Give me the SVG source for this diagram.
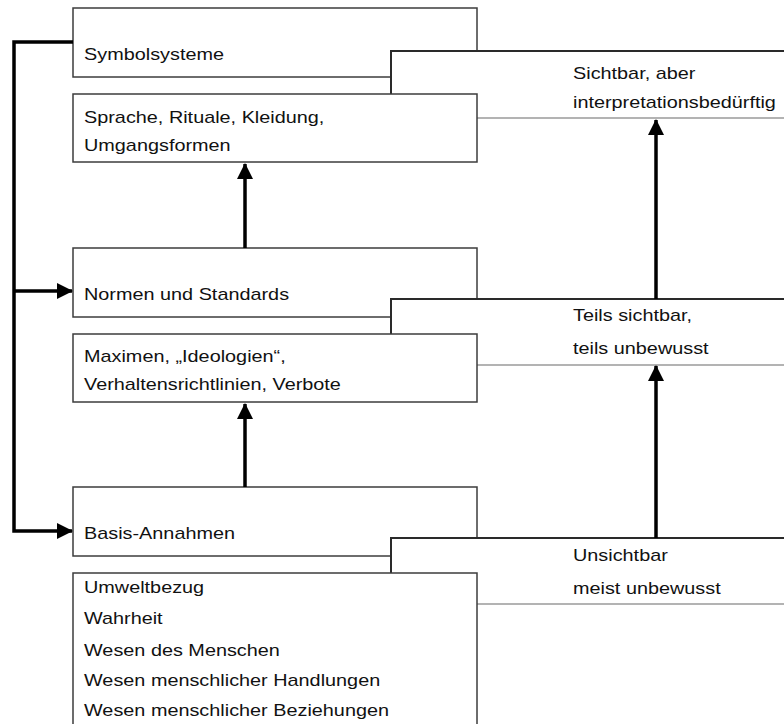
<svg xmlns="http://www.w3.org/2000/svg" width="784" height="724" viewBox="0 0 784 724">
<style>
.box{fill:#fff;stroke:#3c3c3c;stroke-width:1.5}
.bg{fill:#fff;stroke:none}
.edge{fill:none;stroke:#2a2a2a;stroke-width:2}
.low{fill:none;stroke:#9a9a9a;stroke-width:1.3}
.t{font-family:"Liberation Sans",Arial,sans-serif;font-size:16px;fill:#111}
.con{fill:none;stroke:#000;stroke-width:3.5}
</style>
<defs>
<marker id="ah" viewBox="0 0 16 16" refX="15" refY="8" markerWidth="16" markerHeight="16" markerUnits="userSpaceOnUse" orient="auto">
<path d="M0,0 L16,8 L0,16 Z" fill="#000"/>
</marker>
</defs>
<rect width="784" height="724" fill="#fff"/>

<g id="symbolsysteme">
<rect class="box" x="73" y="8" width="404" height="69"/>
<text class="t" transform="translate(84,60) scale(1.24 1)">Symbolsysteme</text>
</g>
<g id="sichtbar">
<rect class="bg" x="391" y="51" width="400" height="67"/>
<path class="edge" d="M786,51 H391 V94"/>
<path class="low" d="M477,118 H786"/>
<text class="t" transform="translate(573,79) scale(1.24 1)">Sichtbar, aber</text>
<text class="t" transform="translate(573,108) scale(1.24 1)">interpretationsbedürftig</text>
</g>
<g id="symbol-details">
<rect class="box" x="73" y="94" width="404" height="68"/>
<text class="t" transform="translate(84,123) scale(1.24 1)">Sprache, Rituale, Kleidung,</text>
<text class="t" transform="translate(84,151) scale(1.24 1)">Umgangsformen</text>
</g>

<g id="normen">
<rect class="box" x="73" y="248" width="404" height="69"/>
<text class="t" transform="translate(84,300) scale(1.24 1)">Normen und Standards</text>
</g>
<g id="teils">
<rect class="bg" x="391" y="299" width="400" height="66"/>
<path class="edge" d="M786,299 H391 V334"/>
<path class="low" d="M477,365 H786"/>
<text class="t" transform="translate(573,321) scale(1.24 1)">Teils sichtbar,</text>
<text class="t" transform="translate(573,354) scale(1.24 1)">teils unbewusst</text>
</g>
<g id="normen-details">
<rect class="box" x="73" y="334" width="404" height="68"/>
<text class="t" transform="translate(84,362) scale(1.24 1)">Maximen, „Ideologien“,</text>
<text class="t" transform="translate(84,390) scale(1.24 1)">Verhaltensrichtlinien, Verbote</text>
</g>

<g id="basis">
<rect class="box" x="73" y="487" width="404" height="69"/>
<text class="t" transform="translate(84,539) scale(1.24 1)">Basis-Annahmen</text>
</g>
<g id="unsichtbar">
<rect class="bg" x="391" y="538" width="400" height="66"/>
<path class="edge" d="M786,538 H391 V573"/>
<path class="low" d="M477,604 H786"/>
<text class="t" transform="translate(573,561) scale(1.24 1)">Unsichtbar</text>
<text class="t" transform="translate(573,594) scale(1.24 1)">meist unbewusst</text>
</g>
<g id="basis-details">
<rect class="box" x="73" y="573" width="404" height="160"/>
<text class="t" transform="translate(84,593) scale(1.24 1)">Umweltbezug</text>
<text class="t" transform="translate(84,624) scale(1.24 1)">Wahrheit</text>
<text class="t" transform="translate(84,656) scale(1.24 1)">Wesen des Menschen</text>
<text class="t" transform="translate(84,686) scale(1.24 1)">Wesen menschlicher Handlungen</text>
<text class="t" transform="translate(84,716) scale(1.24 1)">Wesen menschlicher Beziehungen</text>
</g>

<g id="connectors">
<path class="con" d="M73,42 H14 V531 H72" marker-end="url(#ah)"/>
<path class="con" d="M14,291 H72" marker-end="url(#ah)"/>
<path class="con" d="M245,248 V164" marker-end="url(#ah)"/>
<path class="con" d="M245,487 V404" marker-end="url(#ah)"/>
<path class="con" d="M656,299 V120" marker-end="url(#ah)"/>
<path class="con" d="M656,538 V366" marker-end="url(#ah)"/>
</g>
</svg>
